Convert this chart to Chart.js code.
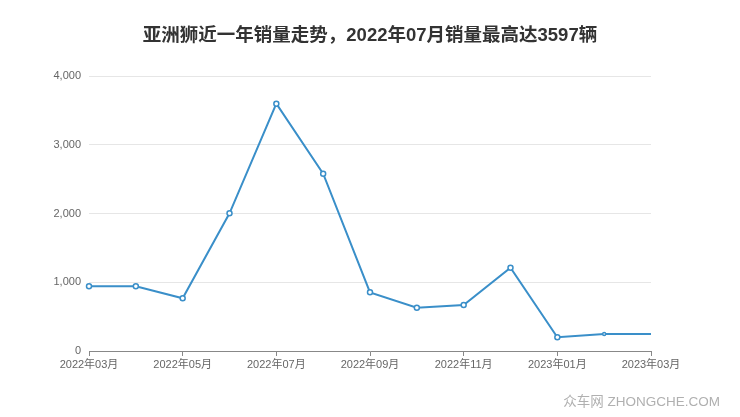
<!DOCTYPE html>
<html>
<head>
<meta charset="utf-8">
<script src="https://cdn.jsdelivr.net/npm/chart.js@4/dist/chart.umd.min.js"></script>
<style>
  html, body { margin: 0; padding: 0; background: #fff; }
  #wrap { position: relative; width: 740px; height: 417px; }
  #title {
    position: absolute; left: 0; top: 20px; width: 740px; text-align: center;
    font: bold 18.5px "Liberation Sans", "Noto Sans CJK SC", sans-serif; color: #333;
  }
  #mark {
    position: absolute; right: 20px; top: 390px;
    font: 13.5px "Liberation Sans", "Noto Sans CJK SC", sans-serif; color: #b0b0b0;
  }
</style>
</head>
<body>
<div id="wrap">
  <canvas id="chart" width="740" height="417"></canvas>
  <div id="title">亚洲狮近一年销量走势，2022年07月销量最高达3597辆</div>
  <div id="mark">众车网 ZHONGCHE.COM</div>
</div>
<script>
// ─── Data ────────────────────────────────────────────────────────────────────
const months = [
  '2022年03月', '2022年04月', '2022年05月', '2022年06月', '2022年07月', '2022年08月',
  '2022年09月', '2022年10月', '2022年11月', '2022年12月', '2023年01月', '2023年02月', '2023年03月',
];
const sales = [941, 941, 766, 2003, 3597, 2579, 853, 630, 669, 1212, 199, 247, 247];
const yTicks = [0, 1000, 2000, 3000, 4000];

const LINE = '#3a8fc9';
const FONT = '"Liberation Sans", "Noto Sans CJK SC", sans-serif';

new Chart(document.getElementById('chart'), {
  type: 'line',
  data: {
    labels: months,
    datasets: [{
      data: sales,
      borderColor: LINE,
      borderWidth: 2,
      backgroundColor: '#fff',
      pointBorderColor: LINE,
      pointBorderWidth: 1.5,
      pointRadius: sales.map((v, i) => i === sales.length - 1 ? 0 : (i === sales.length - 2 ? 1.5 : 2.5)),
      tension: 0,
    }],
  },
  options: {
    responsive: false,
    animation: false,
    layout: { padding: { top: 76, right: 89, bottom: 0, left: 0 } },
    plugins: { legend: { display: false }, tooltip: { enabled: false } },
    scales: {
      x: {
        offset: false,
        border: { color: '#888', width: 1 },
        grid: {
          drawOnChartArea: false,
          drawTicks: true,
          tickLength: 5,
          color: c => (c.index % 2 === 0 ? '#888' : 'transparent'),
        },
        ticks: {
          autoSkip: false,
          maxRotation: 0,
          padding: 2,
          color: '#666',
          font: { family: FONT, size: 11 },
          callback: (v, i) => (i % 2 === 0 ? months[i] : ''),
        },
        afterFit: s => { s.height = 66; },
      },
      y: {
        min: 0,
        max: 4000,
        border: { display: false },
        grid: { color: '#e6e6e6', drawTicks: false },
        afterBuildTicks: s => { s.ticks = yTicks.map(v => ({ value: v })); },
        ticks: {
          padding: 8,
          color: '#666',
          font: { family: FONT, size: 11 },
          callback: v => v.toLocaleString('en-US'),
        },
        afterFit: s => { s.width = 89; },
      },
    },
  },
});
</script>
</body>
</html>
